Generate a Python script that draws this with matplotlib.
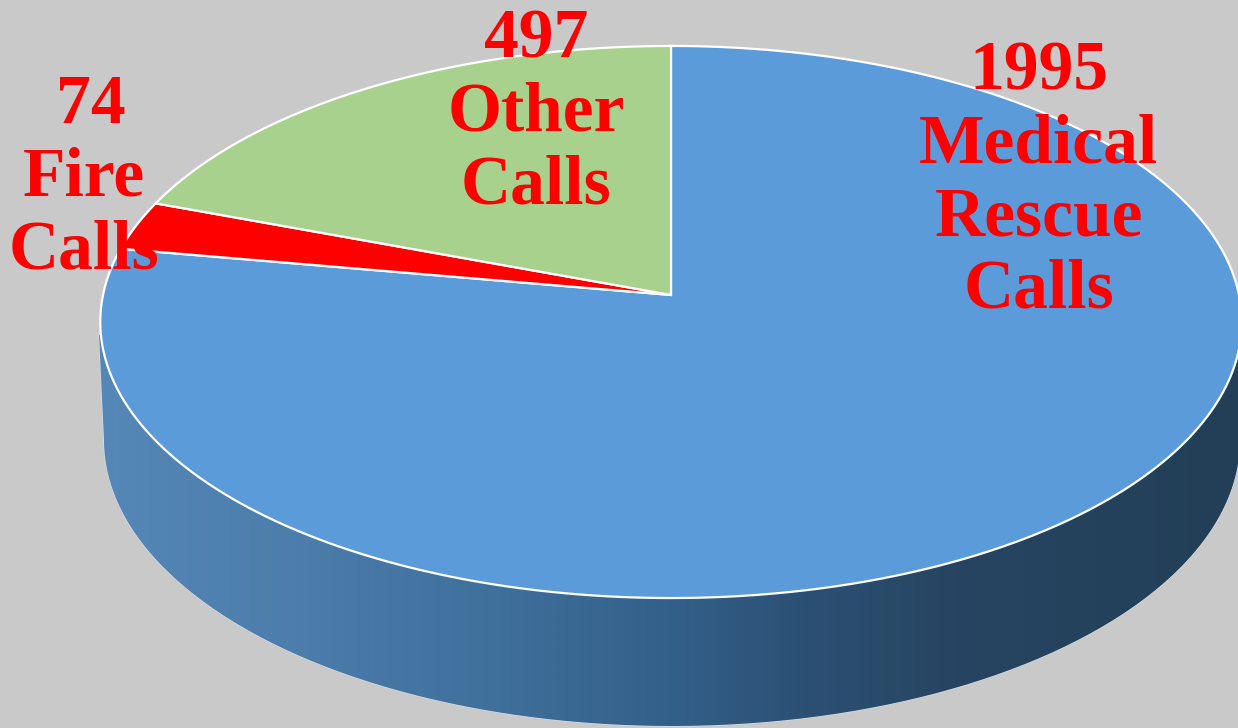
# -*- coding: utf-8 -*-
"""Emergency calls as a tilted 3D-look pie"""
import matplotlib
matplotlib.use("Agg")
import matplotlib.pyplot as plt
import matplotlib.patches as mpatches
from matplotlib.colors import LinearSegmentedColormap
from matplotlib.path import Path
from matplotlib.transforms import Transform
import numpy as np

# ---- data ----
calls = [1995, 74, 497]
names = [["Medical", "Rescue", "Calls"], ["Fire", "Calls"], ["Other", "Calls"]]
colors = ["#5b9bd9", "#ff0000", "#a9d18e"]


class Tilt(Transform):
    """perspective from the unit circle to picture pixels"""
    input_dims = 2
    output_dims = 2

    def transform_non_affine(self, xy):
        xy = np.asarray(xy, dtype=float)
        w = 1 + 0.0978 * xy[:, 1]
        return np.column_stack([671 + 568 * xy[:, 0] / w, 295 - 273.4 * xy[:, 1] / w])

    def transform_path_non_affine(self, path):
        # flatten the curves first, scaled up so the polygon comes out fine
        big = Path(path.vertices * 2000, path.codes)
        poly = big.to_polygons(closed_only=True)[0] / 2000
        return Path(self.transform_non_affine(poly), closed=True)


fig = plt.figure(figsize=(12.38, 7.28), dpi=100, facecolor="#c9c9c9")
ax = fig.add_axes([0, 0, 1, 1])

# ---- pie top ----
wedges, _ = ax.pie(calls, colors=colors, startangle=90, counterclock=False,
                   wedgeprops=dict(edgecolor="white", linewidth=1.6))
tilt = Tilt()
for w in wedges:
    w.set_transform(tilt + ax.transData)
    w.set_zorder(3)

# ---- rim: dark gradient clipped to the lower ellipse ----
t = np.linspace(np.pi, 0, 200)
rim_x = 672 + 568 * np.cos(t)
rim_y = 440 + 286 * np.sin(t)
rim_pts = np.column_stack([rim_x, rim_y])
rim_pts = np.vstack([[99, 335], rim_pts, [1240, 335], [99, 335]])
rim = mpatches.PathPatch(Path(rim_pts), facecolor="none", edgecolor="#dfe6ee",
                         linewidth=0.7, zorder=1)
ax.add_patch(rim)
shade = LinearSegmentedColormap.from_list("rim", [
    (0.0, "#5587b7"), (0.17, "#4c7dab"), (0.35, "#3f6f9b"), (0.50, "#33608a"),
    (0.62, "#2c5074"), (0.75, "#274562"), (1.0, "#233f57")])
img = ax.imshow(np.linspace(0, 1, 400)[None, :], cmap=shade, aspect="auto",
                extent=(98, 1240, 728, 320), zorder=2)
img.set_clip_path(rim)

# ---- labels ----
label_x = [1039, 84, 536]
label_y = [90, 123, 58]
for v, lines, x, y in zip(calls, names, label_x, label_y):
    for i, s in enumerate([str(v)] + lines):
        # the small count sits a little right of its two-line label
        dx = 7 if v == 74 and i == 0 else 0
        ax.text(x + dx, y + i * 72.6, s, ha="center", va="baseline", color="#ff0000",
                family="Liberation Serif", fontweight="bold", fontsize=50, zorder=5)

ax.set_aspect("auto")
ax.set_xlim(0, 1238)
ax.set_ylim(728, 0)
ax.axis("off")

fig.savefig("out.png", dpi=100, facecolor=fig.get_facecolor())
plt.close()
